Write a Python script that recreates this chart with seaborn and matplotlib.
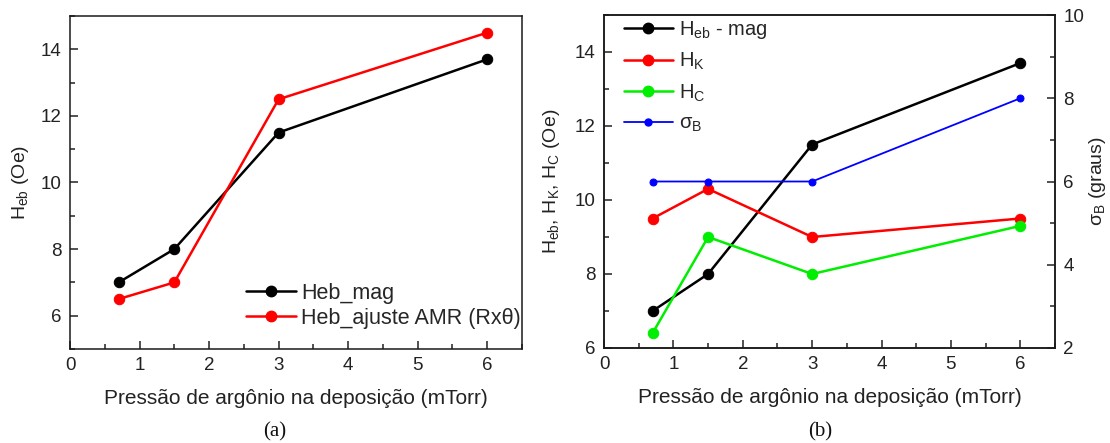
import matplotlib
matplotlib.use("Agg")
import matplotlib.pyplot as plt
from matplotlib.ticker import MultipleLocator
from matplotlib.lines import Line2D
import seaborn as sns

# Argon pressure during deposition (mTorr)
pressure = [0.7, 1.5, 3.0, 6.0]

# Exchange bias field from magnetometry and from the AMR (R x theta) fit (Oe)
heb_mag = [7.0, 8.0, 11.5, 13.7]
heb_amr = [6.5, 7.0, 12.5, 14.5]

# Anisotropy and coercive fields (Oe) and angular dispersion (degrees)
hk = [9.5, 10.3, 9.0, 9.5]
hc = [6.4, 9.0, 8.0, 9.3]
sigma_b = [6.0, 6.0, 6.0, 8.0]

xlabel_text = "Pressão de argônio na deposição (mTorr)"

sns.set_style("ticks")
plt.rcParams["font.family"] = ["Liberation Sans", "DejaVu Sans"]
plt.rcParams.update({
    "mathtext.fontset": "custom",
    "mathtext.rm": "Liberation Sans",
    "mathtext.it": "Liberation Sans",
    "mathtext.default": "regular",
    "axes.linewidth": 1.1,
    "xtick.direction": "in",
    "ytick.direction": "in",
    "xtick.major.size": 5.5,
    "ytick.major.size": 5.5,
    "xtick.minor.size": 3.5,
    "ytick.minor.size": 3.5,
    "xtick.major.width": 1.1,
    "ytick.major.width": 1.1,
    "xtick.minor.width": 1.1,
    "ytick.minor.width": 1.1,
    "xtick.labelsize": 13.5,
    "ytick.labelsize": 13.5,
    "xtick.major.pad": 6,
    "ytick.major.pad": 6,
    "xtick.color": "#222222",
    "ytick.color": "#222222",
    "axes.edgecolor": "#1a1a1a",
})

W, H = 1110, 443
fig = plt.figure(figsize=(W / 100, H / 100), dpi=100)
ax_a = fig.add_axes([70 / W, (H - 349) / H, 452 / W, 333 / H])
ax_b = fig.add_axes([604 / W, (H - 348) / H, 451 / W, 333 / H])

BLACK, RED, GREEN, BLUE = "#000000", "#ff0000", "#00ee00", "#0000ff"
big = dict(marker="o", markersize=7.5, linewidth=1.8)
small = dict(marker="o", markersize=5, linewidth=1.3)


def style_axes(ax, ylo, yhi):
    ax.set_xlim(0, 6.5)
    ax.set_ylim(ylo, yhi)
    ax.xaxis.set_major_locator(MultipleLocator(1))
    ax.xaxis.set_minor_locator(MultipleLocator(0.5))
    ax.yaxis.set_major_locator(MultipleLocator(2))
    ax.yaxis.set_minor_locator(MultipleLocator(1))
    ax.tick_params(which="both", top=False, right=False)
    for s in ax.spines.values():
        s.set_visible(True)
    ax.set_xlabel(xlabel_text, fontsize=15, color="#222222")
    ax.xaxis.set_label_coords(0.5, -0.12)


# ---- panel (a) ----
sns.lineplot(x=pressure, y=heb_mag, ax=ax_a, color=BLACK, markeredgecolor=BLACK, **big)
sns.lineplot(x=pressure, y=heb_amr, ax=ax_a, color=RED, markeredgecolor=RED, **big)
style_axes(ax_a, 5, 15)
ax_a.set_yticks([6, 8, 10, 12, 14])
ax_a.set_ylabel(r"H$_{eb}$ (Oe)", fontsize=14, color="#222222")
ax_a.yaxis.set_label_coords(-0.086, 0.5)

handles_a = [
    Line2D([], [], color=BLACK, markeredgecolor=BLACK, **big),
    Line2D([], [], color=RED, markeredgecolor=RED, **big),
]
ax_a.legend(handles_a, ["Heb_mag", "Heb_ajuste AMR (Rxθ)"],
            loc="center left", bbox_to_anchor=(0.39, 0.13), frameon=False,
            fontsize=15.5, handlelength=2.3, handletextpad=0.25,
            borderpad=0, borderaxespad=0, labelspacing=0.2)

# ---- panel (b) ----
sns.lineplot(x=pressure, y=heb_mag, ax=ax_b, color=BLACK, markeredgecolor=BLACK, **big)
sns.lineplot(x=pressure, y=hk, ax=ax_b, color=RED, markeredgecolor=RED, **big)
sns.lineplot(x=pressure, y=hc, ax=ax_b, color=GREEN, markeredgecolor=GREEN, **big)
style_axes(ax_b, 6, 15)
ax_b.set_yticks([6, 8, 10, 12, 14])
ax_b.set_ylabel(r"H$_{eb}$, H$_{K}$, H$_{C}$ (Oe)", fontsize=14, color="#222222")
ax_b.yaxis.set_label_coords(-0.093, 0.5)

ax_r = ax_b.twinx()
sns.lineplot(x=pressure, y=sigma_b, ax=ax_r, color=BLUE, markeredgecolor=BLUE, **small)
ax_r.set_ylim(2, 10)
ax_r.yaxis.set_major_locator(MultipleLocator(2))
ax_r.yaxis.set_minor_locator(MultipleLocator(1))
ax_r.tick_params(which="both", right=True, left=False, direction="in")
ax_r.set_ylabel(r"$\sigma_{B}$ (graus)", fontsize=14, color="#222222")
ax_r.yaxis.set_label_coords(1.07, 0.5)

handles_b = [
    Line2D([], [], color=BLACK, markeredgecolor=BLACK, **big),
    Line2D([], [], color=RED, markeredgecolor=RED, **big),
    Line2D([], [], color=GREEN, markeredgecolor=GREEN, **big),
    Line2D([], [], color=BLUE, markeredgecolor=BLUE, **small),
]
ax_b.legend(handles_b, [r"H$_{eb}$ - mag", r"H$_{K}$", r"H$_{C}$", r"$\sigma_{B}$"],
            loc="center left", bbox_to_anchor=(0.045, 0.815), frameon=False,
            fontsize=14.5, handlelength=2.4, handletextpad=0.3,
            borderpad=0, borderaxespad=0, labelspacing=0.5)

# panel captions
fig.text(275 / W, 1 - 432 / H, "(a)", family="Liberation Serif", fontsize=15,
         ha="center", va="center", color="#111111")
fig.text(820 / W, 1 - 432 / H, "(b)", family="Liberation Serif", fontsize=15,
         ha="center", va="center", color="#111111")

fig.savefig("out.png", dpi=100)
